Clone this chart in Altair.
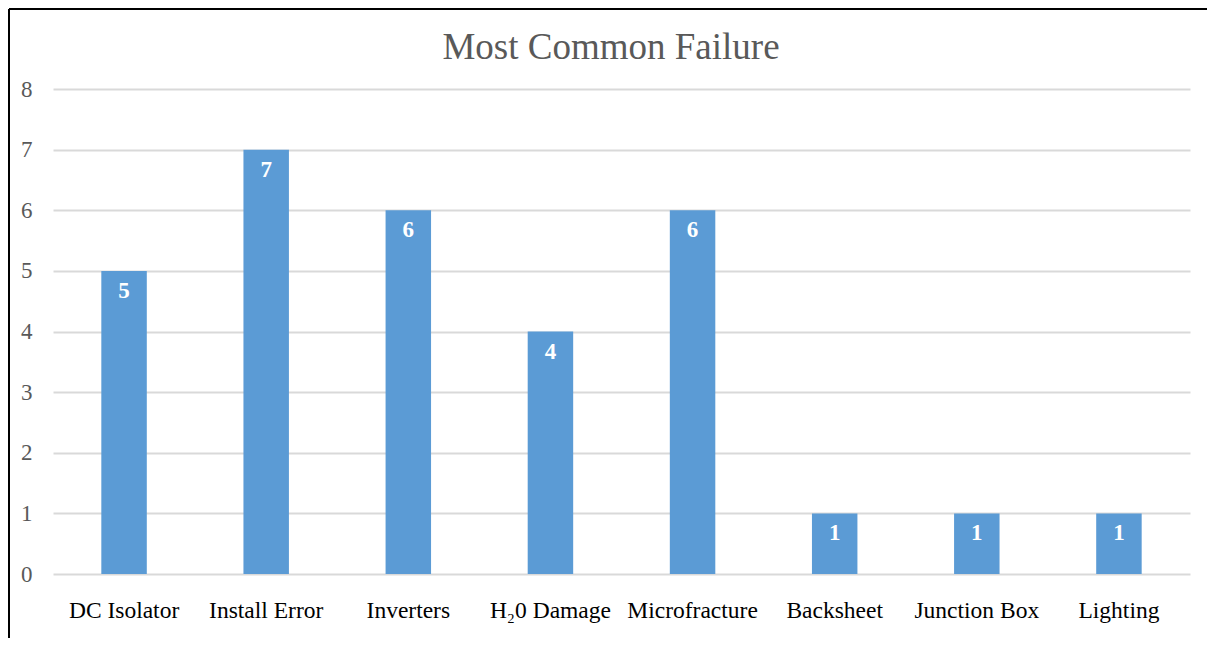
import altair as alt
import pandas as pd

categories = ["DC Isolator", "Install Error", "Inverters", "H\u20820 Damage",
              "Microfracture", "Backsheet", "Junction Box", "Lighting"]
counts = [5, 7, 6, 4, 6, 1, 1, 1]
y_ticks = [0, 1, 2, 3, 4, 5, 6, 7, 8]
title_text = "Most Common Failure"

df = pd.DataFrame({"category": categories, "count": counts})

FONT = "Liberation Serif"

x = alt.X("category:N", sort=categories, title=None,
          scale=alt.Scale(paddingInner=0.68, paddingOuter=0.34),
          axis=alt.Axis(labelAngle=0, labelFontSize=23.5, labelColor="#000000",
                        labelFont=FONT, labelPadding=24, domain=False,
                        ticks=False, grid=False))
y = alt.Y("count:Q", title=None,
          scale=alt.Scale(domain=[0, 8], nice=False),
          axis=alt.Axis(values=y_ticks, format="d", labelFontSize=23,
                        labelColor="#595959",
                        labelFont=FONT, labelPadding=21, domain=False, ticks=False,
                        grid=True, gridColor="#d9d9d9", gridWidth=2))

base = alt.Chart(df)
bars = base.mark_bar(color="#5b9bd5").encode(x=x, y=y)
labels = base.mark_text(color="white", fontWeight="bold", fontSize=23,
                        font=FONT, baseline="top", dy=9).encode(
    x=alt.X("category:N", sort=categories),
    y=alt.Y("count:Q"),
    text=alt.Text("count:Q"),
)

title = alt.Chart(pd.DataFrame({"t": [title_text]})).mark_text(
    fontSize=37, font=FONT, color="#595959", align="center",
    baseline="middle").encode(
    x=alt.value(558), y=alt.value(-41), text="t:N")

border_left = alt.Chart(df).mark_rule(color="black", strokeWidth=2, clip=False).encode(
    x=alt.value(-44), y=alt.value(-80), y2=alt.value(560))
border_top = alt.Chart(df).mark_rule(color="black", strokeWidth=2, clip=False).encode(
    x=alt.value(-44), x2=alt.value(1160), y=alt.value(-80))

chart = alt.layer(bars, labels, title, border_left, border_top).properties(
    width=1137,
    height=485,
    autosize=alt.AutoSizeParams(type="none"),
    padding={"left": 45, "top": 81, "right": 17, "bottom": 64},
).configure_view(stroke=None)

chart.save("out.html", embed_options={"renderer": "svg", "actions": False})
